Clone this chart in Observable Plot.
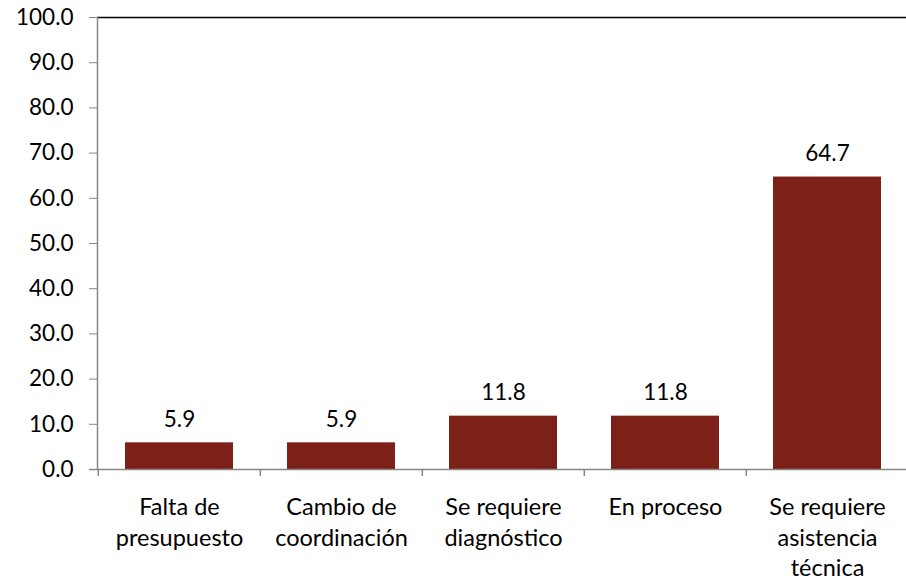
<!DOCTYPE html>
<html>
<head>
<meta charset="utf-8">
<script src="https://cdn.jsdelivr.net/npm/d3@7"></script>
<script src="https://cdn.jsdelivr.net/npm/@observablehq/plot@0.6"></script>
<style>
  html, body { margin: 0; padding: 0; background: #fff; }
  svg { display: block; }
</style>
</head>
<body>
<div id="chart"></div>
<script>
const categories = [
  "Falta de\npresupuesto",
  "Cambio de\ncoordinación",
  "Se requiere\ndiagnóstico",
  "En proceso",
  "Se requiere\nasistencia\ntécnica"
];
const values = [5.9, 5.9, 11.8, 11.8, 64.7];
const yTicks = [0, 10, 20, 30, 40, 50, 60, 70, 80, 90, 100];

const data = categories.map((c, i) => ({category: c, value: values[i]}));

const W = 906, H = 583;
const xRange = [97, 909];
const step = (xRange[1] - xRange[0]) / categories.length;
const FONT = "Lato, 'Open Sans', sans-serif";
const FS = 22.5;
const grey = "#868686";

const chart = Plot.plot({
  width: W,
  height: H,
  marginTop: 17,
  marginLeft: 97,
  marginRight: 0,
  marginBottom: 114,
  style: {fontFamily: FONT, fontSize: FS + "px", color: "#000", background: "#fff"},
  x: {domain: categories, range: xRange, paddingInner: 1/3, paddingOuter: 1/6, label: null},
  y: {domain: [0, 100], label: null},
  marks: [
    Plot.barY(data, {x: "category", y: "value", fill: "#7d2018"}),
    Plot.text(data, {x: "category", y: "value", text: d => d.value.toFixed(1), lineAnchor: "bottom", dy: -16, fontSize: FS, fill: "#000"}),
    Plot.ruleY([100], {stroke: "#000", strokeWidth: 1.6}),
    Plot.ruleY([0], {stroke: grey, strokeWidth: 1.5, insetLeft: -8}),
    Plot.frame({anchor: "left", stroke: grey, strokeWidth: 1.5}),
    Plot.ruleX(categories, {x: d => d, y1: 0, y2: 0, insetBottom: -7, dx: -step / 2, stroke: grey, strokeWidth: 1.5}),
    Plot.axisY({ticks: yTicks, tickFormat: d => d.toFixed(1), tickSize: 8, tickPadding: 16, stroke: grey, fill: "#000", fontSize: FS, label: null}),
    Plot.axisX({tickSize: 0, tickPadding: 24, lineHeight: 1.3, fontSize: 23.5, fill: "#000", label: null})
  ]
});
document.getElementById("chart").appendChild(chart);
</script>
</body>
</html>
